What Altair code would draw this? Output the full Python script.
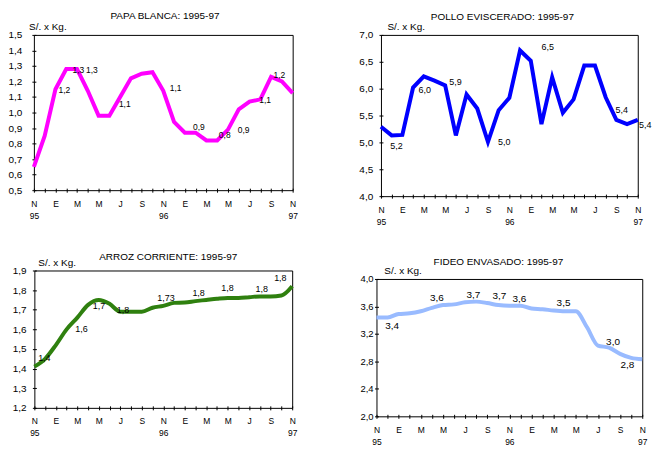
import altair as alt
import pandas as pd

FONT = "Liberation Sans"

# ---- data -------------------------------------------------------------
months = ["N95", "D95", "E96", "F96", "M96", "A96", "M96", "J96", "J96", "A96",
          "S96", "O96", "N96", "D96", "E97", "F97", "M97", "A97", "M97", "J97",
          "J97", "A97", "S97", "O97", "N97"]
x_tick_labels = ["N", "", "E", "", "M", "", "M", "", "J", "", "S", "", "N",
                 "", "E", "", "M", "", "M", "", "J", "", "S", "", "N"]
year_labels = {0: "95", 12: "96", 24: "97"}

papa = [0.65, 0.85, 1.15, 1.28, 1.28, 1.14, 0.98, 0.98, 1.10, 1.22, 1.25, 1.26, 1.14,
        0.94, 0.87, 0.87, 0.82, 0.82, 0.89, 1.02, 1.07, 1.085, 1.23, 1.20, 1.125]
pollo = [5.29, 5.13, 5.14, 6.02, 6.23, 6.15, 6.06, 5.13, 5.89, 5.63, 5.01, 5.60, 5.83,
         6.71, 6.52, 5.34, 6.21, 5.55, 5.80, 6.43, 6.43, 5.84, 5.42, 5.34, 5.42]
arroz = [1.41, 1.45, 1.52, 1.60, 1.66, 1.725, 1.75, 1.73, 1.69, 1.69, 1.69, 1.71, 1.72,
         1.735, 1.737, 1.744, 1.75, 1.756, 1.76, 1.76, 1.764, 1.768, 1.768, 1.773, 1.82]
fideo = [3.44, 3.44, 3.49, 3.50, 3.53, 3.58, 3.62, 3.63, 3.66, 3.67, 3.65, 3.62, 3.61,
         3.61, 3.57, 3.56, 3.54, 3.53, 3.53, 3.30, 3.03, 3.00, 2.91, 2.85, 2.83]

papa_ticks = [0.5, 0.6, 0.7, 0.8, 0.9, 1.0, 1.1, 1.2, 1.3, 1.4, 1.5]
pollo_ticks = [4.0, 4.5, 5.0, 5.5, 6.0, 6.5, 7.0]
arroz_ticks = [1.2, 1.3, 1.4, 1.5, 1.6, 1.7, 1.8, 1.9]
fideo_ticks = [2.0, 2.4, 2.8, 3.2, 3.6, 4.0]

papa_lab_x = [2.83, 4.12, 5.38, 8.43, 13.14, 15.3, 17.7, 19.45, 21.45, 22.77]
papa_lab_y = [1.147, 1.277, 1.277, 1.052, 1.16, 0.907, 0.853, 0.885, 1.078, 1.239]
papa_lab_t = ["1,2", "1,3", "1,3", "1,1", "1,1", "0,9", "0,8", "0,9", "1,1", "1,2"]

pollo_lab_x = [1.46, 4.09, 6.97, 11.52, 15.58, 22.5, 24.7]
pollo_lab_y = [4.93, 5.98, 6.12, 5.01, 6.77, 5.6, 5.32]
pollo_lab_t = ["5,2", "6,0", "5,9", "5,0", "6,5", "5,4", "5,4"]

arroz_lab_x = [0.93, 4.39, 6.02, 8.25, 12.26, 15.29, 17.98, 21.16, 22.9]
arroz_lab_y = [1.454, 1.603, 1.719, 1.70, 1.761, 1.785, 1.81, 1.807, 1.863]
arroz_lab_t = ["1,4", "1,6", "1,7", "1,8", "1,73", "1,8", "1,8", "1,8", "1,8"]

fideo_lab_x = [1.41, 5.46, 8.76, 11.1, 12.9, 16.89, 21.36, 22.65]
fideo_lab_y = [3.31, 3.72, 3.77, 3.75, 3.71, 3.65, 3.08, 2.75]
fideo_lab_t = ["3,4", "3,6", "3,7", "3,7", "3,6", "3,5", "3,0", "2,8"]

# ---- helpers ----------------------------------------------------------
def js(s):
    return "'" + s + "'"

entries = []
for i, lab in enumerate(x_tick_labels):
    if i in year_labels:
        entries.append("[" + js(lab) + "," + js(year_labels[i]) + "]")
    else:
        entries.append(js(lab))
x_label_expr = "[" + ",".join(entries) + "][datum.value]"
y_label_expr = "replace(format(datum.value, '.1f'), '.', ',')"


def panel(values, domain, yticks, color, width, height, title, t_offset, t_dx,
          yt_x, yt_y, y_lp, x_lp, lab_x, lab_y, lab_t, lab_fs, ylab_fs, interp):
    df = pd.DataFrame({"i": list(range(len(values))), "month": months, "v": values})
    ldf = pd.DataFrame({"i": lab_x, "v": lab_y, "t": lab_t})
    xaxis = alt.Axis(values=list(range(25)), labelExpr=x_label_expr, title=None,
                     offset=-2, tickSize=4, labelPadding=x_lp, labelFontSize=8.5,
                     labelLineHeight=12, labelFlush=False, labelOverlap=False,
                     labelBound=False, labelAlign="center", labelBaseline="top")
    yaxis = alt.Axis(values=yticks, labelExpr=y_label_expr, title="S/. x Kg.",
                     titleAngle=0, titleAlign="left", titleBaseline="alphabetic",
                     titleX=yt_x, titleY=yt_y, titleFontSize=10,
                     offset=-2, tickSize=4, labelPadding=y_lp, labelFontSize=ylab_fs,
                     labelFlush=False, labelOverlap=False)
    x = alt.X("i:Q", scale=alt.Scale(domain=[0, 24], nice=False, zero=False), axis=xaxis)
    y = alt.Y("v:Q", scale=alt.Scale(domain=domain, nice=False, zero=False), axis=yaxis)
    line = alt.Chart(df).mark_line(color=color, strokeWidth=4, interpolate=interp).encode(x=x, y=y)
    text = alt.Chart(ldf).mark_text(font=FONT, fontSize=lab_fs, color="black").encode(
        x=x, y=y, text="t:N")
    return alt.layer(line, text).properties(
        width=width, height=height,
        title=alt.TitleParams(text=title, offset=t_offset, dx=t_dx, frame="group",
                              anchor="middle", baseline="alphabetic", font=FONT,
                              fontSize=10, fontWeight="normal", color="black"))


p1 = panel(papa, [0.5, 1.5], papa_ticks, "#FF00FF", 260, 156, "PAPA BLANCA: 1995-97",
           -6.7, 1.7, -7.3, -5, 10.1, 7.5, papa_lab_x, papa_lab_y, papa_lab_t, 8.5, 10, "linear")
p2 = panel(pollo, [4.0, 7.0], pollo_ticks, "#0000FF", 258, 162, "POLLO EVISCERADO: 1995-97",
           -7.6, -7, 4, -5, 6.3, 7, pollo_lab_x, pollo_lab_y, pollo_lab_t, 9, 10, "linear")
p3 = panel(arroz, [1.2, 1.9], arroz_ticks, "#2F800F", 259, 138, "ARROZ CORRIENTE: 1995-97",
           -12.5, 5, 1.5, -5, 6.4, 7, arroz_lab_x, arroz_lab_y, arroz_lab_t, 9, 10, "monotone")
p4 = panel(fideo, [2.0, 4.0], fideo_ticks, "#99BBFF", 267, 138, "FIDEO ENVASADO: 1995-97",
           -9, -11, 5.3, -5, 1.4, 7, fideo_lab_x, fideo_lab_y, fideo_lab_t, 10, 9.5, "monotone")

col1 = alt.vconcat(p1, p3, spacing=80.7, bounds="flush", center=True)
col2 = alt.vconcat(p2, p4, spacing=83.2, bounds="flush", center=True)

chart = alt.hconcat(col1, col2, spacing=344.2, bounds="flush").properties(
    padding={"left": -1, "top": 1, "right": 0, "bottom": -1},
    background="white",
).configure_view(stroke="black", strokeWidth=1).configure_axis(
    labelFont=FONT, titleFont=FONT, labelColor="black", titleColor="black",
    tickColor="black", grid=False, domain=False, titleFontWeight="normal",
    tickWidth=1,
)

chart.save("out.html", embed_options={"renderer": "svg", "actions": False})
